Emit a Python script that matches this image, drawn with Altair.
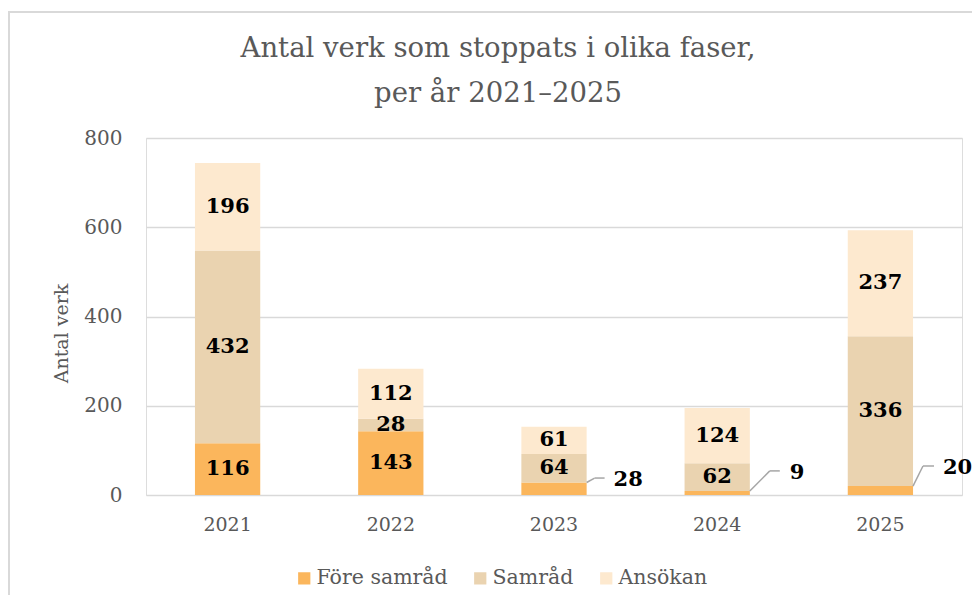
import altair as alt
import pandas as pd

# ---- data ----
years = ["2021", "2022", "2023", "2024", "2025"]
phases = ["Före samråd", "Samråd", "Ansökan"]
fore_samrad = [116, 143, 28, 9, 20]
samrad = [432, 28, 64, 62, 336]
ansokan = [196, 112, 61, 124, 237]

title_lines = ["Antal verk som stoppats i olika faser,", "per år 2021–2025"]

# years whose "Före samråd" value is shown in a callout beside the bar
callout_years = ["2023", "2024", "2025"]

# ---- styling ----
colors = ["#FBB65C", "#EAD3B0", "#FDE9CF"]
FONT = "DejaVu Serif"
GREY = "#595959"
HALF_BAR = 32.6
# per callout: (leader end height in data units, diag dx, horizontal dx, text dx)
callout_style = {
    "2023": (38, 8, 18, 27),
    "2024": (54, 20, 30, 40),
    "2025": (65, 10, 21, 30),
}

rows = []
for i, y in enumerate(years):
    lo = 0
    for k, (ph, series) in enumerate(zip(phases, [fore_samrad, samrad, ansokan])):
        v = series[i]
        rows.append({"year": y, "phase": ph, "order": k, "value": v,
                     "lo": lo, "hi": lo + v, "mid": lo + v / 2,
                     "inside": not (k == 0 and y in callout_years)})
        lo += v
df = pd.DataFrame(rows)

x_enc = alt.X("year:N", title=None, sort=years,
              scale=alt.Scale(paddingInner=0.6, paddingOuter=0.3),
              axis=alt.Axis(labelAngle=0, labelFont=FONT, labelFontSize=19,
                            labelColor=GREY, domain=False, ticks=False,
                            labelPadding=20))
y_scale = alt.Scale(domain=[0, 800], nice=False)

bars = alt.Chart(df).mark_bar().encode(
    x=x_enc,
    y=alt.Y("lo:Q", scale=y_scale, title="Antal verk",
            axis=alt.Axis(values=[0, 200, 400, 600, 800], labelFont=FONT,
                          labelFontSize=20, labelColor=GREY, domain=False,
                          ticks=False, labelPadding=24, gridColor="#D9D9D9",
                          gridWidth=1.5, titleFont=FONT, titleFontSize=19,
                          titleFontWeight="normal", titleColor=GREY,
                          titleX=-85, titleY=195, titleAlign="center",
                          titleBaseline="middle")),
    y2="hi:Q",
    color=alt.Color("phase:N", sort=phases,
                    scale=alt.Scale(domain=phases, range=colors),
                    legend=alt.Legend(title=None, orient="none",
                                      direction="horizontal",
                                      legendX=148, legendY=430,
                                      symbolType="square", symbolSize=150,
                                      symbolStrokeWidth=0, labelFont=FONT,
                                      labelFontSize=20.5, labelColor=GREY,
                                      labelOffset=2, columnPadding=22)),
)

labels = alt.Chart(df).transform_filter("datum.inside").mark_text(
    font=FONT, fontSize=21, fontWeight="bold", color="black", baseline="middle"
).encode(x=alt.X("year:N", sort=years), y=alt.Y("mid:Q"), text="value:Q")

layers = [bars, labels]

for y in callout_years:
    ly, d1, d2, dt = callout_style[y]
    i = years.index(y)
    cdf = pd.DataFrame({"year": [y], "top": [fore_samrad[i]], "ly": [ly],
                        "value": [fore_samrad[i]]})
    diag = alt.Chart(cdf).mark_rule(
        color="#A6A6A6", strokeWidth=1.5, xOffset=HALF_BAR, x2Offset=HALF_BAR + d1
    ).encode(x=alt.X("year:N", sort=years), x2="year:N", y="top:Q", y2="ly:Q")
    horiz = alt.Chart(cdf).mark_rule(
        color="#A6A6A6", strokeWidth=1.5, xOffset=HALF_BAR + d1, x2Offset=HALF_BAR + d2
    ).encode(x=alt.X("year:N", sort=years), x2="year:N", y="ly:Q", y2="ly:Q")
    txt = alt.Chart(cdf).mark_text(
        font=FONT, fontSize=21, fontWeight="bold", color="black",
        align="left", baseline="middle", dx=HALF_BAR + dt, dy=2
    ).encode(x=alt.X("year:N", sort=years), y="ly:Q", text="value:Q")
    layers += [diag, horiz, txt]

aux = pd.DataFrame({"a": [0]})
frame = alt.Chart(aux).mark_rect(
    filled=False, stroke="#D9D9D9", strokeWidth=2
).encode(x=alt.value(-137), y=alt.value(-126), x2=alt.value(860), y2=alt.value(500))

title = alt.Chart(aux).mark_text(
    text=title_lines, font=FONT, fontSize=27.5, color=GREY, align="center",
    baseline="middle", lineHeight=45
).encode(x=alt.value(352), y=alt.value(-89))

chart = alt.layer(frame, title, *layers).properties(
    width=816, height=357,
    autosize=alt.AutoSizeParams(type="none"),
    padding={"left": 138, "top": 130, "right": 10, "bottom": 100},
).configure_view(stroke=None).configure(background="white")

chart.save("out.html", embed_options={"renderer": "svg", "actions": False})
